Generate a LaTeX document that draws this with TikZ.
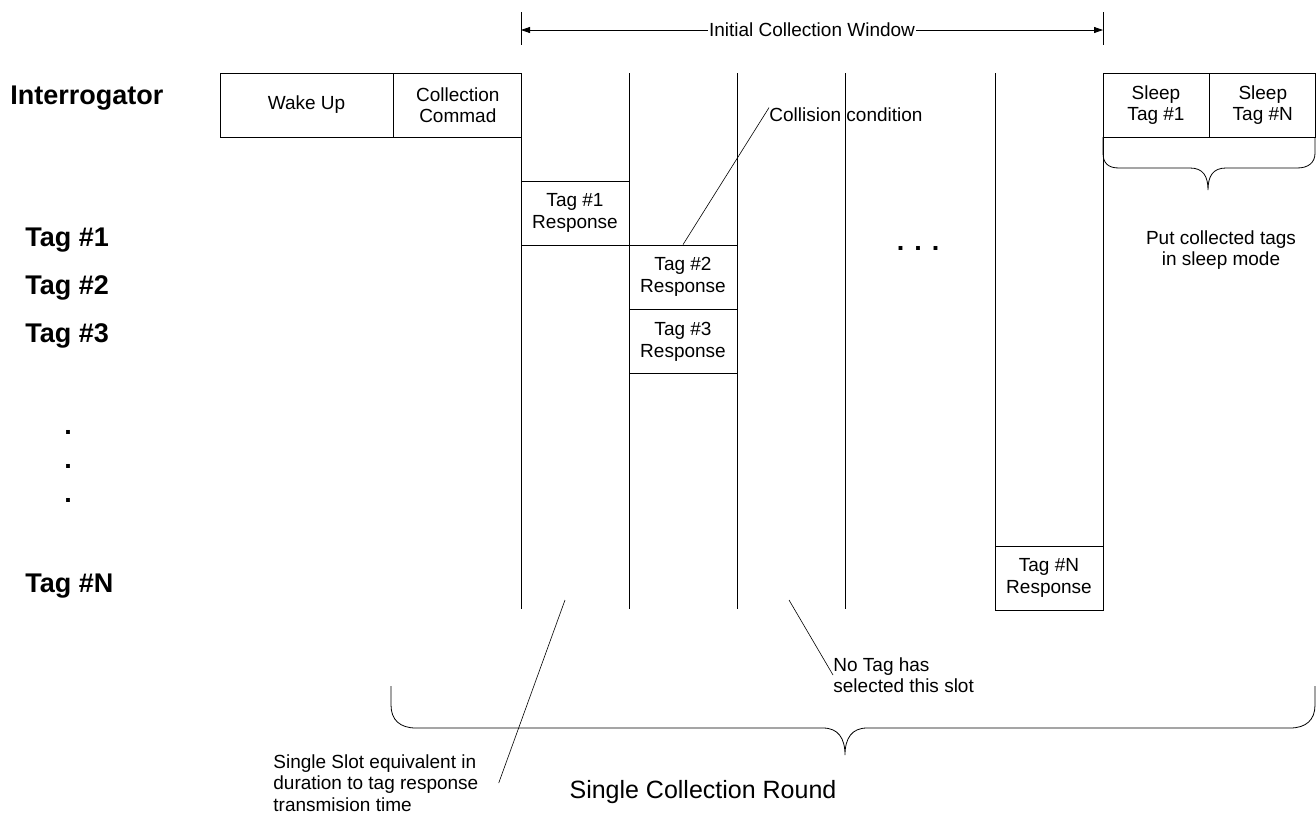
\documentclass[tikz,border=0pt]{standalone}
\usepackage{fontspec}
\setmainfont{Liberation Sans}
\usetikzlibrary{arrows.meta,positioning}

\begin{document}
\begin{tikzpicture}[
  x=1pt, y=-1pt, line width=0.8pt,
  rowlbl/.style={anchor=west, inner sep=0pt, font=\fontsize{27}{30}\selectfont\bfseries},
  slotbox/.style={draw, align=center, inner sep=0pt, minimum height=64pt,
  font=\fontsize{19}{21.5}\selectfont},
  note/.style={align=left, inner sep=0pt, font=\fontsize{19}{21.5}\selectfont},
  callout/.style={line width=0.6pt},
  dimarrow/.style={{Triangle[length=9pt,width=6pt]}-{Triangle[length=9pt,width=6pt]}},
  node distance=0pt]
\useasboundingbox (0,0) rectangle (1316,814);
% row labels
\node[rowlbl] (interr) at (10,98) {Interrogator};
\node[rowlbl] (tag1) at (25,240) {Tag \#1};
\node[rowlbl] (tag2) at (25,288) {Tag \#2};
\node[rowlbl] (tag3) at (25,336) {Tag \#3};
\node[rowlbl, anchor=center, align=center, font=\fontsize{27}{34}\selectfont\bfseries]
  (vdots) at (68,466) {.\\.\\.};
\node[rowlbl] (tagN) at (25,586) {Tag \#N};
% interrogator commands
\node[slotbox, minimum width=173pt] (wake) at (306.5,105) {Wake Up};
\node[slotbox, minimum width=128pt, right=of wake] (cmd) {Collection\\Commad};
\node[slotbox, minimum width=106pt] (sleep1) at (1156,105) {Sleep\\Tag \#1};
\node[slotbox, minimum width=106pt, right=of sleep1] (sleepN) {Sleep\\Tag \#N};
% slot boundaries
\foreach \sx in {521,629,737,845,995,1103}
  \draw (\sx,73) -- (\sx,609);
% tag responses
\node[slotbox, minimum width=108pt] (resp1) at (575,213) {Tag \#1\\Response};
\node[slotbox, minimum width=108pt] (resp2) at (683,277) {Tag \#2\\Response};
\node[slotbox, minimum width=108pt, below=of resp2] (resp3) {Tag \#3\\Response};
\node[slotbox, minimum width=108pt] (respN) at (1049,578) {Tag \#N\\Response};
\node[rowlbl, anchor=center] (hdots) at (918,248) {. . .};
% collection window
\coordinate (winL) at (521,30);
\coordinate (winR) at (1103,30);
\draw (521,12) -- (521,45);
\draw (1103,12) -- (1103,45);
\draw[dimarrow] (winL) -- node[fill=white, inner sep=1pt,
  font=\fontsize{19}{21.5}\selectfont] (winlbl) {Initial Collection Window} (winR);
% notes
\node[note, anchor=west] (collnote) at (769,115) {Collision condition};
\draw[callout] (resp2.north) -- (collnote.north west);
\node[note, align=center, anchor=north] (sleepnote) at (1221,230) {Put collected tags\\in sleep mode};
\node[note, anchor=west] (emptynote) at (833,675) {No Tag has\\selected this slot};
\coordinate (emptyslot) at (789,600);
\draw[callout] (emptyslot) -- (emptynote.west);
\node[note, anchor=west] (slotnote) at (273,783) {Single Slot equivalent in\\duration to tag response\\transmision time};
\coordinate (oneslot) at (565,600);
\draw[callout] (oneslot) -- ([xshift=20pt]slotnote.east);
\node[font=\fontsize{25}{28}\selectfont, inner sep=0pt] (roundlbl) at (703,792) {Single Collection Round};
% braces
\draw (1103,137) -- (1103,153) .. controls (1103,163) and (1108,168) .. (1119,168)
  -- (1190,168) .. controls (1203,168) and (1208,176) .. (1208,190)
  .. controls (1208,176) and (1213,168) .. (1226,168) -- (1297,168)
  .. controls (1308,168) and (1315,163) .. (1315,153) -- (1315,137);
\draw (391,686) -- (391,705) .. controls (391,720) and (400,728) .. (416,728)
  -- (823,728) .. controls (838,728) and (845,738) .. (845,755)
  .. controls (845,738) and (852,728) .. (867,728) -- (1290,728)
  .. controls (1306,728) and (1315,720) .. (1315,705) -- (1315,686);
\end{tikzpicture}
\end{document}
